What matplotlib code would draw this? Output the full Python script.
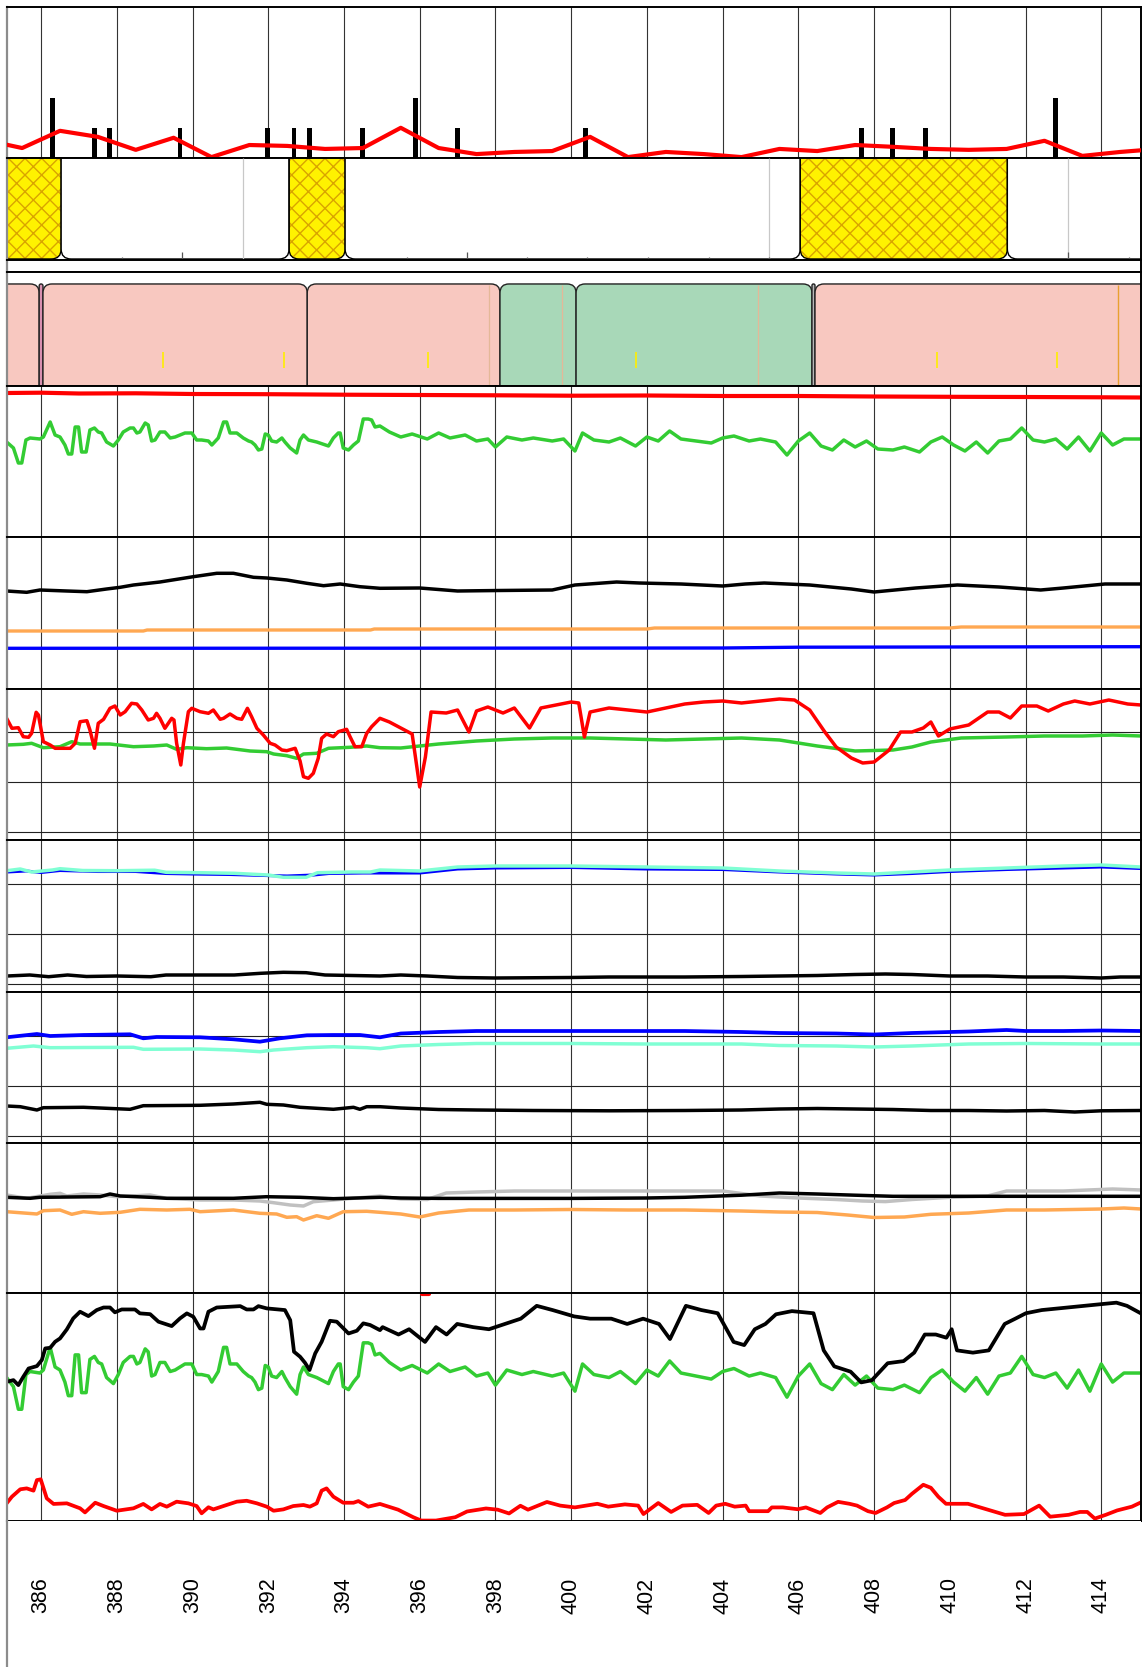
import matplotlib.pyplot as plt
from matplotlib.patches import FancyBboxPatch

plt.rcParams['font.family'] = ['Liberation Sans', 'DejaVu Sans']
plt.rcParams['hatch.linewidth'] = 1.0

W, H = 1142, 1667
LEFT, RIGHT = 7, 1141
T0, T1 = 385.1, 415.05
GRID_T = list(range(386, 415, 2))

# ---- events strip ----
EVENT_RED_T = [384.5 + i for i in range(32)]
EVENT_RED_V = [0.6, 0.33, 0.9, 0.7, 0.27, 0.67, 0.03, 0.43, 0.4, 0.3, 0.33, 1.0, 0.33, 0.13, 0.2,
               0.23, 0.7, 0.03, 0.2, 0.13, 0.03, 0.3, 0.23, 0.43, 0.37, 0.3, 0.27, 0.3, 0.57, 0.07,
               0.2, 0.3]
BAR_T = [386.29, 387.40, 387.80, 389.67, 391.99, 392.68, 393.08, 394.48, 395.90, 396.99,
         400.39, 407.68, 408.48, 409.37, 412.78]
BAR_H = [2, 1, 1, 1, 1, 1, 1, 1, 2, 1, 1, 1, 1, 1, 2]

# ---- period boxes ----
PER_START = [384.5, 386.53, 392.55, 394.03, 406.05, 411.52]
PER_END = [386.53, 392.55, 394.03, 406.05, 411.52, 415.6]
PER_KIND = ['hatch', 'plain', 'hatch', 'plain', 'hatch', 'plain']
PER_GRAY_T = [391.32, 405.22, 413.13]
PER_TICK_T = [388.14, 389.72, 395.67, 397.25, 398.84, 400.42, 402.03, 403.64, 405.22, 413.13, 414.74]
PER_TICK_H = [0.03, 0.08, 0.03, 0.08, 0.03, 0.03, 0.03, 0.03, 0.03, 0.08, 0.03]

# ---- stage boxes ----
STAGE_START = [384.5, 385.95, 386.05, 393.03, 398.12, 400.13, 406.36, 406.44]
STAGE_END = [385.95, 386.05, 393.03, 398.12, 400.13, 406.36, 406.44, 415.6]
STAGE_COLOR = ['#f8c8c0', '#d890b0', '#f8c8c0', '#f8c8c0', '#a8d8b8', '#a8d8b8', '#b8b8b8', '#f8c8c0']
STAGE_TAN_T = [397.83, 399.76, 404.94]
STAGE_ORANGE_T = [414.45]
STAGE_YELLOW_T = [389.22, 392.42, 396.22, 401.72, 409.67, 412.84]

# ---- saturation / pulse ----
SPO2_T = [385.1, 386, 387, 388.5, 390, 392, 394, 396, 398, 400, 402, 404, 406, 408, 410, 412, 414, 415.05]
SPO2_V = [144, 144.3, 143.5, 143.7, 143, 142.8, 142.3, 142, 141.7, 141.3, 141.5, 141, 141, 140.5,
          140.2, 140, 139.7, 139.5]
PULSE_T = [385.09, 385.27, 385.40, 385.49, 385.60, 385.71, 385.97, 386.06, 386.24, 386.37,
           386.50, 386.63, 386.72, 386.81, 386.90, 386.99, 387.07, 387.19, 387.29, 387.41,
           387.51, 387.60, 387.73, 387.91, 388.04, 388.17, 388.35, 388.44, 388.53, 388.61,
           388.75, 388.83, 388.92, 389.01, 389.14, 389.27, 389.41, 389.54, 389.67, 389.80,
           389.98, 390.11, 390.24, 390.42, 390.51, 390.68, 390.82, 390.90, 390.99, 391.17,
           391.34, 391.48, 391.56, 391.65, 391.74, 391.83, 391.92, 392.00, 392.09, 392.22,
           392.36, 392.44, 392.58, 392.75, 392.84, 392.93, 393.06, 393.28, 393.59, 393.72,
           393.85, 393.90, 393.98, 394.12, 394.25, 394.38, 394.51, 394.64, 394.73, 394.82, 394.95,
           395.2, 395.5, 395.8, 396.2, 396.5, 396.8, 397.2, 397.5, 397.8, 398.0,
           398.3, 398.7, 399.0, 399.5, 399.8, 400.1, 400.3, 400.6, 401.0, 401.3,
           401.7, 402.0, 402.3, 402.6, 402.9, 403.3, 403.7, 404.0, 404.3, 404.7,
           405.0, 405.4, 405.7, 406.0, 406.3, 406.6, 406.9, 407.2, 407.5, 407.8,
           408.1, 408.5, 408.8, 409.2, 409.5, 409.8, 410.1, 410.4, 410.7, 411.0,
           411.3, 411.6, 411.9, 412.2, 412.5, 412.8, 413.1, 413.4, 413.7, 414.0,
           414.3, 414.6, 415.05]
PULSE_V = [95, 89, 74, 74, 97, 99, 98, 100, 115, 102,
           100, 92, 83, 83, 110, 110, 85, 85, 107, 109,
           105, 104, 95, 91, 97, 105, 109, 109, 104, 105,
           114, 112, 96, 97, 105, 105, 99, 100, 102, 104,
           104, 97, 97, 96, 92, 99, 115, 115, 104, 104,
           99, 96, 95, 92, 87, 88, 103, 102, 96, 95,
           99, 95, 89, 84, 97, 102, 97, 95, 91, 99,
           104, 104, 89, 87, 92, 96, 118, 118, 117, 110, 111,
           105, 100, 103, 98, 104, 99, 102, 96, 98, 90,
           100, 97, 99, 96, 98, 86, 104, 97, 95, 99,
           91, 100, 96, 106, 98, 96, 94, 99, 101, 96,
           98, 95, 82, 96, 104, 91, 87, 97, 90, 96,
           88, 87, 90, 85, 95, 100, 92, 86, 95, 84,
           96, 98, 109, 97, 95, 98, 88, 100, 86, 104,
           92, 98, 98]

# ---- temperature-like traces ----
P5_BLACK_T = [385.09, 385.62, 385.97, 386.68, 387.21, 387.73, 388.09, 388.44, 389.14, 390.02,
              390.64, 391.08, 391.61, 391.96, 392.49, 393.02, 393.46, 393.90, 394.42, 394.95,
              396.0, 397.0, 398.1, 399.5, 400.1, 401.2, 401.8, 402.9, 404.0, 404.6,
              405.1, 406.3, 407.4, 408.0, 409.1, 410.2, 411.3, 412.4, 413.0, 414.1, 415.05]
P5_BLACK_V = [98, 96.7, 99, 98, 97.3, 100, 101.7, 104, 107, 112.3,
              115.7, 115.7, 111.7, 111, 109, 105.7, 103.3, 105, 102.3, 100.7,
              101, 98, 98.5, 99, 104, 107, 106, 105, 103, 105,
              106, 104, 100, 97, 101, 104, 102, 99, 101, 105, 105]
P5_ORANGE_T = [385.1, 388.7, 388.8, 394.7, 394.8, 402.0, 402.2, 410.0, 410.3, 415.05]
P5_ORANGE_V = [58, 58, 59, 59, 60, 60, 61, 61, 62, 62]
P5_BLUE_T = [385.1, 395, 404, 406, 415.05]
P5_BLUE_V = [40.7, 40.8, 41, 41.8, 42.3]

# ---- panel 6 ----
P6_RED_T = [385.09, 385.23, 385.40, 385.53, 385.67, 385.75, 385.87, 385.93, 386.06, 386.24,
            386.37, 386.77, 386.90, 387.03, 387.21, 387.29, 387.41, 387.51, 387.65, 387.82,
            387.95, 388.09, 388.22, 388.39, 388.53, 388.66, 388.83, 388.97, 389.05, 389.14,
            389.27, 389.45, 389.51, 389.58, 389.69, 389.76, 389.89, 389.98, 390.20, 390.42,
            390.55, 390.73, 390.82, 390.99, 391.17, 391.30, 391.45, 391.56, 391.70, 391.87,
            392.05, 392.18, 392.36, 392.49, 392.71, 392.84, 392.93, 393.06, 393.19, 393.32,
            393.41, 393.54, 393.72, 393.85, 394.07, 394.16, 394.29, 394.47, 394.60, 394.73, 394.95,
            395.2, 395.5, 395.8, 396.0, 396.15, 396.3, 396.7, 397.0, 397.3, 397.5,
            397.8, 398.2, 398.5, 398.9, 399.2, 399.6, 400.0, 400.2, 400.35, 400.5,
            401.0, 401.5, 402.0, 402.5, 403.0, 403.5, 404.0, 404.5, 405.0, 405.5,
            405.9, 406.3, 406.7, 407.0, 407.4, 407.7, 408.0, 408.4, 408.7, 409.0,
            409.3, 409.5, 409.7, 410.0, 410.5, 411.0, 411.3, 411.6, 411.9, 412.3,
            412.6, 413.0, 413.3, 413.7, 414.2, 414.7, 415.05]
P6_RED_V = [113.7, 103.7, 104.3, 95.3, 94.7, 98.7, 119.7, 117, 90.3, 87,
            83.7, 83.7, 88.7, 110.3, 111.3, 102, 83.7, 108.7, 112.7, 123.7,
            126, 117, 120.3, 128.7, 128, 122, 112, 113.7, 118.7, 113.7,
            103.7, 113.7, 112, 88.7, 67, 88.7, 120.3, 123.7, 120.3, 118.7,
            122, 112.7, 113.7, 118, 113.7, 112.7, 123.7, 115.3, 103.7, 97,
            88.7, 87, 82, 81.3, 83.7, 71, 55.3, 53.7, 58.7, 73.7,
            93.7, 98, 95.3, 100.3, 102.7, 95.3, 85.3, 85.3, 98.7, 105.3, 113.7,
            110, 104, 98, 45, 75, 120, 119, 122, 100, 121,
            125, 119, 124, 104, 124, 127, 130, 129, 95, 120,
            124, 122, 120, 124, 128, 130, 131, 129, 131, 133,
            132, 122, 100, 85, 74, 69, 70, 82, 100, 100,
            104, 110, 96, 103, 107, 120, 120, 114, 126, 126,
            121, 128, 131, 128, 132, 128, 127]
P6_GREEN_T = [385.09, 385.53, 385.75, 386.06, 386.50, 386.81, 387.03, 387.82, 388.44, 388.97,
              389.32, 389.58, 389.85, 390.37, 390.90, 391.52, 391.96, 392.14, 392.49, 392.75,
              392.93, 393.28, 393.59, 394.16, 394.60, 394.95,
              395.5, 396.5, 397.5, 398.5, 399.5, 400.5, 401.5, 402.5, 403.5, 404.5,
              405.5, 406.5, 407.5, 408.5, 409.0, 409.5, 410.3, 411.5, 412.5, 413.5, 414.3, 415.05]
P6_GREEN_V = [87, 87.7, 88.7, 84.3, 85.3, 90.3, 88, 88, 85.3, 86,
              87, 82.7, 84.3, 83.3, 84, 81, 80.3, 78, 76.3, 73.7,
              78, 78.7, 83.7, 84.7, 86, 84.3,
              84, 88, 91, 93, 94, 94, 93, 92, 93, 94,
              92, 86, 81, 82, 85, 90, 94, 95, 96, 96, 97, 96]

# ---- panel 7 ----
P7_CYAN_T = [385.1, 385.45, 385.75, 386.3, 386.5, 387.1, 388.0, 389.0, 389.3, 390.2,
             391.1, 392.0, 392.4, 393.0, 393.3, 394.2, 394.7, 394.95,
             396.0, 397.0, 398.0, 400.0, 402.0, 404.0, 405.5, 407.0, 408.0, 409.0,
             410.0, 411.5, 413.0, 414.0, 415.05]
P7_CYAN_V = [113.3, 115, 112, 114, 115.3, 113.5, 113.3, 113.8, 111.7, 111.3,
             110.7, 109, 106.7, 106.7, 111.3, 112, 112, 114,
             113, 117, 118, 118, 117, 116, 113, 111, 110, 112,
             114, 116, 118, 119, 117]
P7_BLUE_T = [385.1, 385.6, 386.0, 386.5, 387.5, 388.5, 389.3, 390.0, 391.0, 391.9,
             392.5, 393.2, 393.6, 394.5, 395.0,
             396.0, 397.0, 398.0, 400.0, 402.0, 404.0, 405.5, 407.0, 408.0, 409.0,
             410.0, 411.5, 413.0, 414.0, 415.05]
P7_BLUE_V = [112, 113, 111.5, 113.5, 112.5, 112.5, 110.5, 110, 109.5, 108.5,
             108, 109, 110.5, 111, 111,
             111, 115, 116, 116.5, 115, 114.5, 112, 110, 109, 110.5,
             112.5, 114.5, 116, 117, 115.5]
P7_BLACK_T = [385.1, 385.7, 386.2, 386.7, 387.2, 388.0, 388.9, 389.3, 391.1, 391.8,
              392.4, 393.0, 393.5, 394.95,
              395.5, 396.2, 397.0, 398.0, 400.0, 401.0, 403.0, 404.5, 405.5, 406.5,
              407.5, 408.3, 409.0, 410.0, 411.0, 412.0, 413.0, 414.0, 414.5, 415.05]
P7_BLACK_V = [8, 9, 7.3, 9, 7.5, 8, 7.3, 9, 9, 10.7,
              11.7, 11.3, 9, 8,
              9, 8, 6.5, 6, 6.5, 7, 7, 7.5, 8, 8.5,
              9.5, 10, 9.5, 8, 8, 7, 7, 6, 7, 7]

# ---- panel 8 ----
P8_BLUE_T = [385.09, 385.89, 386.24, 387.12, 388.35, 388.70, 389.05, 390.20, 391.08, 391.78,
             392.31, 393.02, 393.72, 394.42, 394.95,
             395.5, 396.5, 397.5, 399.0, 401.0, 403.0, 404.5, 405.5, 407.0, 408.0,
             409.0, 410.5, 411.5, 412.0, 413.0, 414.0, 415.05]
P8_BLUE_V = [98.7, 102, 100, 101, 101.7, 97.7, 99, 98.7, 96.7, 94.3,
             97.7, 100.7, 101, 101, 98.7,
             102.5, 104, 105, 105, 105, 105, 104, 103, 102.5, 101.5,
             103, 104.5, 106, 105, 105, 105.5, 105]
P8_CYAN_T = [385.09, 385.80, 386.24, 387.12, 388.44, 388.70, 390.20, 391.08, 391.78, 392.14,
             393.02, 393.72, 394.60, 394.95,
             395.5, 396.5, 397.5, 400.0, 402.0, 404.5, 405.5, 407.0, 408.0, 409.0,
             410.5, 412.0, 414.0, 415.05]
P8_CYAN_V = [87.7, 90, 88.3, 88.5, 88.7, 86.7, 87, 86, 84.3, 86,
             88.3, 89.3, 88.3, 87.3,
             90, 91.5, 92.5, 92.5, 92, 92, 90.5, 90, 89, 90,
             92, 92.5, 92, 92]
P8_BLACK_T = [385.09, 385.45, 385.89, 386.06, 387.12, 388.35, 388.70, 390.20, 391.08, 391.78,
              391.96, 392.40, 392.84, 393.72, 394.25, 394.42, 394.60, 394.95,
              395.5, 396.5, 397.5, 399.0, 401.0, 403.0, 404.5, 405.5, 406.5, 407.5,
              408.5, 409.5, 410.5, 411.5, 412.5, 413.3, 414.0, 415.05]
P8_BLACK_V = [30, 29.3, 26, 28.3, 28.7, 26.7, 30.3, 30.7, 32, 33.7,
              31.7, 31, 28.7, 26.7, 28.7, 26.7, 29.3, 29.3,
              28, 26.5, 26, 25.5, 25.2, 25.5, 26, 27, 27.5, 27,
              26.5, 25.5, 25.5, 25, 25.5, 24, 25.2, 25.5]

# ---- panel 9 ----
P9_BLACK_T = [385.09, 385.71, 385.97, 387.56, 387.82, 388.09, 388.88, 389.32, 391.08, 391.96,
              392.84, 393.72, 394.95,
              395.5, 396.5, 398.0, 400.0, 402.0, 403.0, 404.5, 405.5, 406.5, 407.5,
              408.5, 409.5, 410.5, 412.0, 414.0, 415.05]
P9_BLACK_V = [95.7, 94.7, 95.7, 96.3, 99, 97, 95.7, 94.7, 94.7, 96.3,
              95.7, 94.3, 95.7,
              95, 94.6, 94.6, 94.6, 95, 95.7, 97.8, 100, 99, 97.8,
              96.7, 96.7, 96.7, 96.7, 96.7, 96.7]
P9_GRAY_T = [385.09, 385.62, 386.24, 386.50, 386.68, 387.12, 387.56, 388.00, 388.88, 389.32,
             390.20, 391.08, 391.78, 392.14, 392.58, 392.93, 393.19, 393.72, 394.95,
             395.5, 396.2, 396.7, 397.5, 398.5, 400.0, 402.0, 404.0, 405.0, 406.0,
             407.0, 407.7, 408.3, 409.0, 410.0, 411.0, 411.5, 413.0, 414.3, 415.05]
P9_GRAY_V = [98, 94.7, 98.7, 99.7, 97, 99, 98, 96.3, 98, 94.7,
             93, 93, 92, 90.3, 88, 87, 91.3, 93, 97,
             94, 93.5, 100, 101, 102, 102, 102, 102, 97, 95,
             93.5, 92, 91.4, 93.5, 95.7, 97, 102, 102, 104, 103]
P9_ORANGE_T = [385.09, 385.89, 386.06, 386.50, 386.81, 387.12, 387.56, 388.09, 388.61, 389.32,
               389.93, 390.20, 391.08, 391.78, 392.22, 392.49, 392.75, 392.93, 393.28, 393.59,
               393.98, 394.60, 394.95,
               395.5, 396.0, 396.5, 397.3, 398.5, 400.0, 401.5, 403.0, 404.5, 405.5,
               406.5, 407.3, 408.0, 408.8, 409.5, 410.5, 411.5, 412.5, 414.0, 414.6, 415.05]
P9_ORANGE_V = [81.3, 79, 82.3, 83, 78.7, 81.3, 79.7, 80.7, 83.7, 83,
               83.7, 81.3, 83, 79.7, 79, 75.7, 76.3, 73, 77.3, 74.7,
               81.3, 81.7, 80.7,
               79, 76, 80, 83, 83, 83.5, 83, 83, 82, 81,
               80.5, 78, 75.5, 76, 78.7, 80, 83, 83, 84, 85, 84]

# ---- panel 10 ----
P10_BLACK_T = [385.09, 385.27, 385.40, 385.53, 385.67, 385.89, 386.02, 386.11, 386.24, 386.37,
               386.50, 386.68, 386.85, 387.03, 387.25, 387.47, 387.65, 387.82, 387.95, 388.13,
               388.48, 388.61, 388.88, 389.10, 389.45, 389.67, 389.85, 390.02, 390.20, 390.29,
               390.42, 390.64, 391.26, 391.43, 391.61, 391.74, 391.96, 392.44, 392.58, 392.68,
               392.84, 392.97, 393.09, 393.24, 393.41, 393.63, 393.81, 394.12, 394.34, 394.51,
               394.69, 394.95,
               395.02, 395.44, 395.72, 396.14, 396.43, 396.71, 396.99, 397.41, 397.83, 398.25,
               398.67, 399.09, 399.51, 400.08, 400.50, 401.06, 401.48, 401.90, 402.32, 402.61,
               403.03, 403.44, 403.87, 404.29, 404.57, 404.85, 405.13, 405.41, 405.83, 406.40,
               406.67, 406.95, 407.38, 407.66, 407.94, 408.36, 408.78, 409.06, 409.34, 409.63,
               409.91, 410.05, 410.19, 410.61, 411.03, 411.45, 411.73, 412.01, 412.43, 412.99,
               413.83, 414.40, 414.68, 415.04]
P10_BLACK_V = [92.2, 93.3, 90, 95.5, 101, 102.6, 106.6, 114.3, 114.7, 118.7,
               120.9, 126.9, 134.2, 138.6, 135.7, 139.7, 141.4, 141.4, 138.2, 140.1,
               140.1, 137.5, 137, 132, 129.1, 134.2, 137.5, 135.3, 127.5, 127.5,
               138.6, 141.4, 142.3, 140.1, 140.1, 142.3, 140.8, 139.7, 133, 112.1,
               108.8, 104.8, 100, 111, 118.7, 132.6, 132, 124.2, 126, 130.9,
               129.8, 126.4,
               128.4, 123.5, 127, 118.6, 128.4, 123.5, 130.5, 128.4, 127, 130.5,
               134, 142.5, 139.7, 135.5, 134, 134, 130.5, 134, 130.5, 120.5,
               142.5, 139.7, 137.6, 118.6, 116.5, 127, 130.5, 136.9, 139, 137.6,
               113, 102.4, 98.9, 91.8, 93.2, 104.5, 105.9, 111.5, 123.5, 123.5,
               121.4, 127, 113, 111.5, 113, 130.5, 134, 137.6, 139.7, 141.1,
               143.2, 144.6, 142.5, 137.6]
P10_RED_T = [385.09, 385.23, 385.45, 385.62, 385.80, 385.89, 385.99, 386.15, 386.33, 386.68,
             387.03, 387.16, 387.43, 387.65, 388.00, 388.44, 388.70, 388.92, 389.14, 389.32,
             389.58, 389.89, 390.11, 390.24, 390.42, 390.55, 390.90, 391.17, 391.43, 391.70,
             391.96, 392.14, 392.40, 392.66, 392.93, 393.10, 393.28, 393.41, 393.54, 393.72,
             393.98, 394.25, 394.38, 394.64, 394.95,
             395.43, 395.83, 396.04, 396.43, 396.94, 397.25, 397.75, 398.06, 398.36, 398.66,
             398.86, 399.36, 399.71, 400.10, 400.69, 400.98, 401.42, 401.77, 401.91, 402.30,
             402.64, 402.94, 403.33, 403.63, 403.83, 404.07, 404.32, 404.61, 404.70, 405.20,
             405.30, 405.59, 405.98, 406.20, 406.58, 406.76, 407.05, 407.35, 407.55, 407.84,
             408.04, 408.34, 408.53, 408.82, 409.0, 409.3, 409.5, 409.7, 409.90, 410.48,
             411.46, 411.96, 412.36, 412.65, 413.14, 413.44, 413.63, 413.83, 414.12, 414.42,
             414.81, 415.08]
P10_RED_V = [11.7, 16.1, 21, 21.6, 20.1, 27.1, 27.6, 15, 11.3, 11.7,
             8.4, 5.7, 12.1, 9.9, 6.8, 8.4, 11.3, 7.7, 11.3, 9.5,
             12.8, 11.7, 9.9, 5.1, 9.1, 7.7, 10.6, 12.8, 13.4, 11.7,
             9.5, 6.8, 7.7, 9.9, 10.6, 9.5, 11.7, 20.1, 21.6, 16.1,
             12.1, 12.1, 13.2, 9.5, 11.3,
             7.5, 2.5, 0.3, 0.3, 2.5, 6.3, 8.3, 7.5, 5.0, 10.1,
             7.5, 12.6, 10.2, 9.0, 11.4, 9.5, 11.0, 10.2, 4.6, 11.9,
             6.0, 10.2, 10.7, 5.3, 10.2, 11.4, 9.5, 10.2, 6.5, 6.5,
             9.0, 9.0, 7.8, 9.0, 5.3, 9.0, 12.7, 11.4, 10.2, 6.5,
             5.3, 9.0, 11.9, 13.9, 18, 24, 22, 16, 11.4, 11.4,
             4.1, 4.6, 10.2, 2.85, 4.1, 6.0, 6.0, 1.6, 4.1, 7.0,
             9.5, 12.7]
# short red excursion pinned at the top edge
P10_RED_TOP_T = [396.05, 396.25]
P10_RED_TOP_V = [150.6, 150.6]

RED = '#ff0000'
GREEN = '#33cc33'
ORANGE = '#ffa852'
BLUE = '#0000ff'
CYAN = '#80ffd4'
GRAY = '#c0c0c0'

fig = plt.figure(figsize=(W / 100, H / 100), dpi=100)


def panel(top, bottom, ylim=(0, 1), grid=True, yticks=()):
    ax = fig.add_axes([LEFT / W, 1 - bottom / H, (RIGHT - LEFT) / W, (bottom - top) / H])
    ax.set_xlim(T0, T1)
    ax.set_ylim(*ylim)
    ax.set_xticks(GRID_T if grid else [])
    ax.set_yticks(list(yticks))
    ax.tick_params(length=0, labelbottom=False, labelleft=False)
    if grid:
        ax.grid(axis='x', color='#333333', lw=0.8)
    if yticks:
        ax.grid(axis='y', color='#222222', lw=0.8)
    ax.set_axisbelow(True)
    for side in ('top', 'bottom', 'right'):
        ax.spines[side].set_color('black')
        ax.spines[side].set_linewidth(1.4)
    ax.spines['left'].set_color('#8c8c8c')
    ax.spines['left'].set_linewidth(1.6)
    return ax


def rounded(ax, s, e, y0, y1, radius_px=8, **kw):
    bb = ax.get_position()
    lo, hi = ax.get_ylim()
    px_x = bb.width * W / (T1 - T0)
    px_y = bb.height * H / (hi - lo)
    r = min(radius_px / px_x, (e - s) / 2)
    p = FancyBboxPatch((s, y0), e - s, y1 - y0,
                       boxstyle=f"round,pad=0,rounding_size={r}",
                       mutation_aspect=px_x / px_y, **kw)
    ax.add_patch(p)
    return p


# events
ax1 = panel(7, 158, ylim=(0, 5))
ax1.bar(BAR_T, BAR_H, width=0.13, color='black', zorder=2)
ax1.plot(EVENT_RED_T, EVENT_RED_V, color=RED, lw=3, zorder=3)

# periods
ax2 = panel(158, 260, grid=False)
for s, e, k in zip(PER_START, PER_END, PER_KIND):
    if k == 'hatch':
        rounded(ax2, s, e, 0.01, 1.5, radius_px=10, facecolor='#fff200', edgecolor='#d9a400',
                lw=0, hatch='xx', zorder=1)
    rounded(ax2, s, e, 0.01, 1.5, radius_px=10, facecolor='none' if k == 'hatch' else 'white',
            edgecolor='black', lw=1.0, zorder=2)
ax2.vlines(PER_GRAY_T, 0, 1, color='#c8c8c8', lw=0.9, zorder=3)
ax2.vlines(PER_TICK_T, 0, PER_TICK_H, color='#555555', lw=0.9, zorder=3)

panel(260, 272, grid=False)

# stages
ax3 = panel(272, 386, grid=False)
for s, e, c in zip(STAGE_START, STAGE_END, STAGE_COLOR):
    rounded(ax3, s, e, -0.5, 0.895, radius_px=9, facecolor=c, edgecolor='#222222', lw=1.0,
            zorder=1)
ax3.vlines(STAGE_TAN_T, 0, 0.89, color='#e4b898', lw=0.9, zorder=2)
ax3.vlines(STAGE_ORANGE_T, 0, 0.89, color='#e8a030', lw=1.0, zorder=2)
ax3.vlines(STAGE_YELLOW_T, 0.16, 0.30, color='#ffee00', lw=1.2, zorder=2)

# saturation / pulse
ax4 = panel(386, 537, ylim=(0, 151))
ax4.plot(SPO2_T, SPO2_V, color=RED, lw=3)
ax4.plot(PULSE_T, PULSE_V, color=GREEN, lw=2.5)

ax5 = panel(537, 689, ylim=(0, 152))
ax5.plot(P5_BLUE_T, P5_BLUE_V, color=BLUE, lw=2.4)
ax5.plot(P5_ORANGE_T, P5_ORANGE_V, color=ORANGE, lw=2.4)
ax5.plot(P5_BLACK_T, P5_BLACK_V, color='black', lw=2.5)

ax6 = panel(689, 840, ylim=(-8, 143), yticks=(0, 50, 100))
ax6.plot(P6_GREEN_T, P6_GREEN_V, color=GREEN, lw=2.5)
ax6.plot(P6_RED_T, P6_RED_V, color=RED, lw=2.5)

ax7 = panel(840, 992, ylim=(-8, 144), yticks=(0, 50, 100))
ax7.plot(P7_BLUE_T, P7_BLUE_V, color=BLUE, lw=2.2)
ax7.plot(P7_CYAN_T, P7_CYAN_V, color=CYAN, lw=2.5)
ax7.plot(P7_BLACK_T, P7_BLACK_V, color='black', lw=2.5)

ax8 = panel(992, 1143, ylim=(-7, 144), yticks=(0, 50, 100))
ax8.plot(P8_CYAN_T, P8_CYAN_V, color=CYAN, lw=2.5)
ax8.plot(P8_BLUE_T, P8_BLUE_V, color=BLUE, lw=2.7)
ax8.plot(P8_BLACK_T, P8_BLACK_V, color='black', lw=2.5)

ax9 = panel(1143, 1293, ylim=(0, 150))
ax9.plot(P9_GRAY_T, P9_GRAY_V, color=GRAY, lw=2.5)
ax9.plot(P9_ORANGE_T, P9_ORANGE_V, color=ORANGE, lw=2.5)
ax9.plot(P9_BLACK_T, P9_BLACK_V, color='black', lw=2.5)

ax10 = panel(1293, 1521, ylim=(0, 151))
ax10.plot(P10_RED_T, P10_RED_V, color=RED, lw=2.7)
ax10.plot(P10_RED_TOP_T, P10_RED_TOP_V, color=RED, lw=3, solid_capstyle='round')
ax10.plot(PULSE_T, PULSE_V, color=GREEN, lw=2.5)
ax10.plot(P10_BLACK_T, P10_BLACK_V, color='black', lw=2.7)

# time labels
ax11 = panel(1521, 1667, grid=False)
for side in ('top', 'bottom', 'right'):
    ax11.spines[side].set_visible(False)
for t in GRID_T:
    ax11.text(t, 0.49, str(t), transform=ax11.get_xaxis_transform(), rotation=90,
              ha='center', va='center', fontsize=15.5, color='black')

fig.savefig('out.png', dpi=100)
